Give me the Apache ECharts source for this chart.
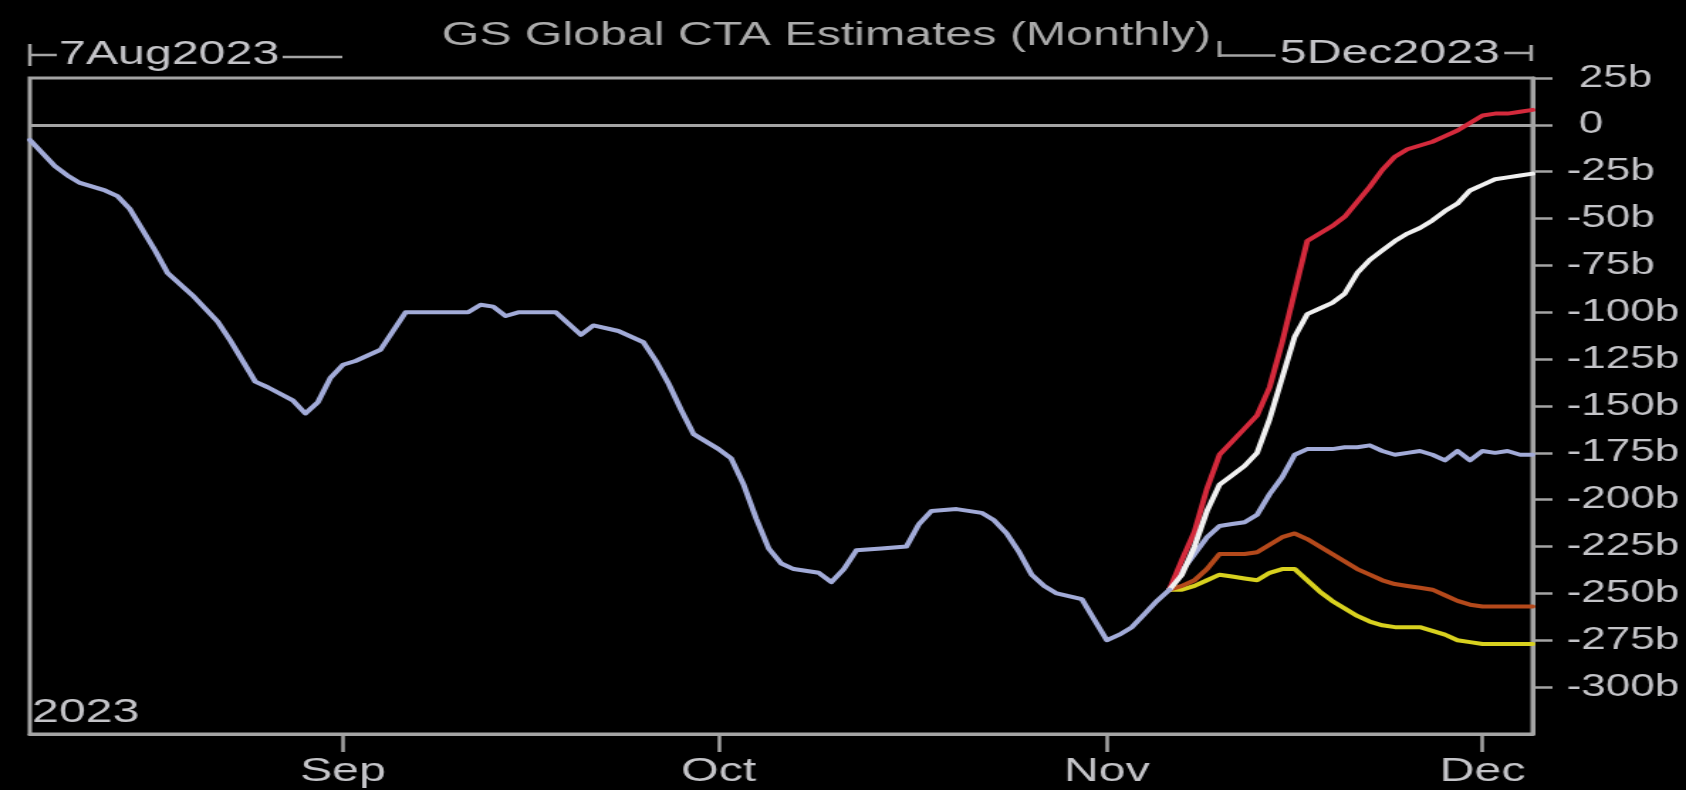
<!DOCTYPE html>
<html>
<head>
<meta charset="utf-8">
<script src="https://cdn.jsdelivr.net/npm/echarts@6.0.0/dist/echarts.min.js"></script>
<style>
html,body{margin:0;padding:0;background:#000;overflow:hidden;width:1686px;height:790px;}
#wrap{width:1187px;height:790px;transform:scaleX(1.42039);transform-origin:0 0;}
</style>
</head>
<body>
<div id="wrap"></div>
<script>
// ---- data (values in $bn) ----
const historyDates = ['2023-08-07','2023-08-09','2023-08-10','2023-08-11','2023-08-13','2023-08-14','2023-08-15','2023-08-17','2023-08-18','2023-08-20','2023-08-22','2023-08-23','2023-08-25','2023-08-26','2023-08-28','2023-08-29','2023-08-30','2023-08-31',
'2023-09-01','2023-09-02','2023-09-04','2023-09-06','2023-09-09','2023-09-11','2023-09-12','2023-09-13','2023-09-14','2023-09-15','2023-09-18','2023-09-19','2023-09-20','2023-09-21','2023-09-23','2023-09-25','2023-09-26','2023-09-27','2023-09-28','2023-09-29',
'2023-10-01','2023-10-02','2023-10-03','2023-10-04','2023-10-05','2023-10-06','2023-10-07','2023-10-09','2023-10-10','2023-10-11','2023-10-12','2023-10-14','2023-10-16','2023-10-17','2023-10-18','2023-10-20','2023-10-22','2023-10-23','2023-10-24','2023-10-25','2023-10-26','2023-10-27','2023-10-28','2023-10-30','2023-10-31',
'2023-11-01','2023-11-02','2023-11-03','2023-11-04','2023-11-05','2023-11-06'];
const historyValues = [-8,-22,-27,-31,-35,-38,-45,-67,-79,-91,-105,-115,-137,-140,-147,-154,-148,-135,
-128,-126,-120,-100,-100,-100,-96,-97,-102,-100,-100,-106,-112,-107,-110,-116,-126,-138,-152,-165,
-173,-178,-192,-210,-226,-234,-237,-239,-244,-237,-227,-226,-225,-213,-206,-205,-207,-211,-218,-228,-240,-246,-250,-253,-264,
-275,-272,-268,-261,-254,-248];

const scenarioDates = ['2023-11-06','2023-11-07','2023-11-08','2023-11-09','2023-11-10','2023-11-11','2023-11-12','2023-11-13','2023-11-14','2023-11-15',
'2023-11-16','2023-11-17','2023-11-18','2023-11-19','2023-11-20','2023-11-21','2023-11-22','2023-11-23','2023-11-24','2023-11-25',
'2023-11-26','2023-11-27','2023-11-28','2023-11-29','2023-11-30','2023-12-01','2023-12-02','2023-12-03','2023-12-04','2023-12-05'];
const redScenario    = [-248,-232,-217,-194,-176,-169,-162,-155,-140,-116,-89,-62,-58,-54,-49,-41,-33,-24,-17,-13,-11,-9,-6,-3,1,5,6,6,7,8];
const whiteScenario  = [-248,-240,-225,-206,-192,-187,-182,-175,-157,-135,-113,-101,-98,-95,-90,-79,-72,-67,-62,-58,-55,-51,-46,-42,-35,-32,-29,-28,-27,-26];
const blueScenario   = [-248,-238,-229,-220,-214,-213,-212,-208,-197,-188,-176,-173,-173,-173,-172,-172,-171,-174,-176,-175,-174,-176,-179,-174,-179,-174,-175,-174,-176,-176];
const brownScenario  = [-248,-246,-243,-237,-229,-229,-229,-228,-224,-220,-218,-221,-225,-229,-233,-237,-240,-243,-245,-246,-247,-248,-251,-254,-256,-257,-257,-257,-257,-257];
const yellowScenario = [-248,-248,-246,-243,-240,-241,-242,-243,-239,-237,-237,-243,-249,-254,-258,-262,-265,-267,-268,-268,-268,-270,-272,-275,-276,-277,-277,-277,-277,-277];

const monthTicks = ['2023-09-01','2023-10-01','2023-11-01','2023-12-01'];
const monthNames = ['Jan','Feb','Mar','Apr','May','Jun','Jul','Aug','Sep','Oct','Nov','Dec'];
const yTicks = [25,0,-25,-50,-75,-100,-125,-150,-175,-200,-225,-250,-275,-300];
const xStart = '2023-08-07', xEnd = '2023-12-05';
const titleText = 'GS Global CTA Estimates (Monthly)';
const startLabel = '7Aug2023', endLabel = '5Dec2023', yearLabel = '2023';

// ---- styles ----
const FONT = "'Liberation Sans', Arial, sans-serif";
const GRAY = '#a4a4a4';
const TXT = '#c4c4c8';
const C = {hist:'#a2abd8', red:'#d42a3c', white:'#f0f0f0', brown:'#b4491b', yellow:'#d8d11f'};

const ts = (s) => new Date(s + 'T00:00:00').getTime();
const pair = (dates, vals) => dates.map((d, i) => [ts(d), vals[i]]);
const lineSeries = (name, data, color, z) => ({
  name, type:'line', data, showSymbol:false, symbol:'none', smooth:false, z,
  lineStyle:{color, width:4, join:'round', cap:'round'}, emphasis:{disabled:true}
});
const tickValues = monthTicks.map(ts);
const yLabel = (v) => v === 0 ? ' 0' : (v < 0 ? '-' + Math.abs(v) + 'b' : ' ' + v + 'b');

const chart = echarts.init(document.getElementById('wrap'), null, {renderer:'canvas'});
chart.setOption({
  backgroundColor:'#000',
  animation:false,
  title:{
    text:titleText, left:311, top:19, padding:0,
    textStyle:{color:'#ababab', fontSize:34, fontWeight:'normal', fontFamily:FONT}
  },
  grid:{left:21, right:108, top:78, bottom:56, show:true, borderColor:GRAY, borderWidth:3, backgroundColor:'#000'},
  xAxis:{
    type:'value', min:ts(xStart), max:ts(xEnd), scale:true,
    axisLine:{show:true, onZero:false, lineStyle:{color:GRAY, width:3}},
    axisTick:{show:true, customValues:tickValues, length:18, lineStyle:{color:GRAY, width:2.5}},
    axisLabel:{customValues:tickValues, color:TXT, fontSize:34, fontFamily:FONT, margin:21,
      formatter:(v) => monthNames[new Date(v).getMonth()]},
    splitLine:{show:false}
  },
  yAxis:{
    type:'value', position:'right', min:-325, max:25, interval:25,
    axisLine:{show:true, onZero:false, lineStyle:{color:GRAY, width:3}},
    axisTick:{show:true, customValues:yTicks, length:14, lineStyle:{color:GRAY, width:2.5}},
    axisLabel:{customValues:yTicks, color:TXT, fontSize:31, fontFamily:FONT, margin:24, formatter:yLabel},
    splitLine:{show:false}
  },
  series:[
    lineSeries('Yellow scenario', pair(scenarioDates, yellowScenario), C.yellow, 2),
    lineSeries('Brown scenario', pair(scenarioDates, brownScenario), C.brown, 3),
    lineSeries('Blue scenario', pair(scenarioDates, blueScenario), C.hist, 4),
    lineSeries('Red scenario', pair(scenarioDates, redScenario), C.red, 5),
    lineSeries('White scenario', pair(scenarioDates, whiteScenario), C.white, 6),
    Object.assign(lineSeries('CTA positioning', pair(historyDates, historyValues), C.hist, 7), {
      markLine:{silent:true, symbol:['none','none'], label:{show:false},
        lineStyle:{color:GRAY, width:3, type:'solid'}, data:[{yAxis:0}]}
    })
  ],
  graphic:[
    {type:'line', shape:{x1:21, y1:44, x2:21, y2:66}, style:{stroke:GRAY, lineWidth:2.5}},
    {type:'line', shape:{x1:21, y1:55, x2:40, y2:55}, style:{stroke:GRAY, lineWidth:2.5}},
    {type:'text', x:41.5, y:55, style:{text:startLabel, fill:TXT, font:'34px ' + FONT, textAlign:'left', textVerticalAlign:'middle'}},
    {type:'line', shape:{x1:199, y1:57, x2:241, y2:57}, style:{stroke:GRAY, lineWidth:2.5}},
    {type:'line', shape:{x1:858.5, y1:41, x2:858.5, y2:57}, style:{stroke:GRAY, lineWidth:2.5}},
    {type:'line', shape:{x1:858.5, y1:55.5, x2:898, y2:55.5}, style:{stroke:GRAY, lineWidth:2.5}},
    {type:'text', x:901, y:54, style:{text:endLabel, fill:TXT, font:'34px ' + FONT, textAlign:'left', textVerticalAlign:'middle'}},
    {type:'line', shape:{x1:1059, y1:53, x2:1078, y2:53}, style:{stroke:GRAY, lineWidth:2.5}},
    {type:'line', shape:{x1:1078, y1:45, x2:1078, y2:61}, style:{stroke:GRAY, lineWidth:2.5}},
    {type:'text', x:22.5, y:713, style:{text:yearLabel, fill:TXT, font:'34px ' + FONT, textAlign:'left', textVerticalAlign:'middle'}}
  ]
});
</script>
</body>
</html>
